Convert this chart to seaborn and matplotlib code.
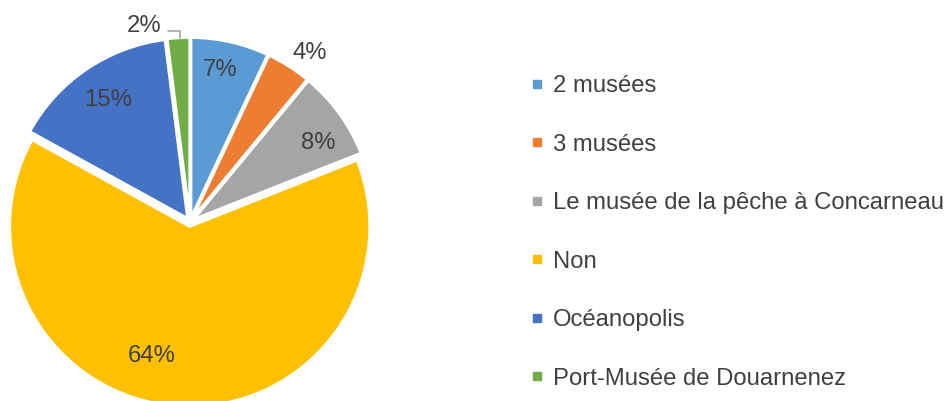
import numpy as np
import seaborn as sns
import matplotlib.pyplot as plt
from matplotlib.lines import Line2D

# data
categories = ["2 musées", "3 musées", "Le musée de la pêche à Concarneau",
              "Non", "Océanopolis", "Port-Musée de Douarnenez"]
shares = [7, 4, 8, 64, 15, 2]
colors = ["#5B9BD5", "#ED7D31", "#A5A5A5", "#FFC000", "#4472C4", "#70AD47"]

sns.set_theme(style="white")
plt.rcParams['font.family'] = ['Liberation Sans', 'DejaVu Sans']
text_color = "#404040"

W, H = 946, 401
fig = plt.figure(figsize=(W / 100, H / 100), dpi=100)

# pie axes: centre at (190, 222) px, radius 180 px -> 1 data unit
R = 180.0
cx, cy = 190.0, 222.0
ax = fig.add_axes([0, 0, 400 / W, 1])

wedges, _ = ax.pie(shares, colors=colors, startangle=90, counterclock=False,
                   radius=1.0, explode=[0.025] * len(shares),
                   wedgeprops=dict(edgecolor="white", linewidth=2))
ax.set_aspect("auto")
ax.set_xlim(-cx / R, (400 - cx) / R)
ax.set_ylim(-(H - cy) / R, cy / R)
ax.set_axis_off()

# label positions (radius, angle in degrees) as placed by the original chart
label_pos = [(0.872, 79.0), (1.163, 55.0), (0.847, 32.5), (0.763, -106.1), (0.828, 123.4), (1.132, 103.0)]
for share, (r, a) in zip(shares, label_pos):
    x, y = r * np.cos(np.radians(a)), r * np.sin(np.radians(a))
    ax.text(x, y, f"{share}%", ha="center", va="center_baseline", fontsize=17.2, color=text_color)

# leader line for the 2% label
ax.plot([-0.122, -0.056, -0.056], [1.061, 1.061, 1.022], color="#A5A5A5", linewidth=1.2)

handles = [Line2D([0], [0], marker="s", linestyle="", markersize=6,
                  markerfacecolor=c, markeredgecolor=c) for c in colors]
fig.legend(handles, categories, loc="upper left", bbox_to_anchor=(530 / W, 1 - 75 / H),
           frameon=False, fontsize=17.2, labelcolor=text_color, handlelength=0.6,
           handletextpad=0.35, labelspacing=1.53, borderpad=0, borderaxespad=0)

fig.savefig("out.png", dpi=100)
